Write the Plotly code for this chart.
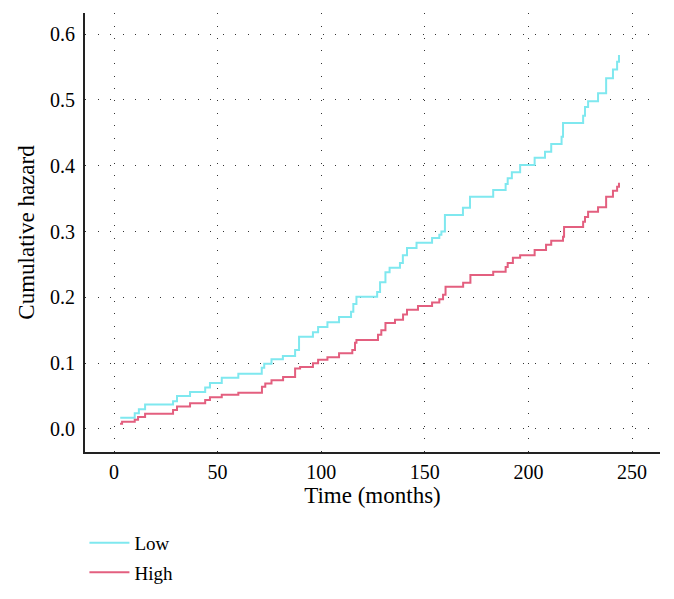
import plotly.graph_objects as go

# step curves (time in months, cumulative hazard)
low_time = [3, 10, 12, 15, 28.5, 30.4, 36.7, 44, 46.3, 52, 60, 71.3, 72.5, 76, 81.5, 87.4,
            89.3, 96, 98.5, 103, 108.6, 114.4, 115.5, 117, 127, 128.4, 131, 133, 138, 139.4,
            141.4, 146, 153.5, 157, 158, 159.7, 168.4, 171.8, 183, 189, 190, 192, 196, 203,
            208, 211, 216, 216.7, 226.4, 227.3, 228.8, 233.6, 237.5, 240.8, 242.8, 243.7]
low_haz = [0.017, 0.024, 0.030, 0.037, 0.042, 0.050, 0.056, 0.063, 0.070, 0.078, 0.084, 0.093,
           0.099, 0.106, 0.111, 0.120, 0.140, 0.147, 0.155, 0.162, 0.170, 0.178, 0.190, 0.201,
           0.208, 0.223, 0.238, 0.245, 0.252, 0.264, 0.275, 0.283, 0.290, 0.295, 0.300, 0.325,
           0.336, 0.353, 0.363, 0.372, 0.381, 0.390, 0.401, 0.412, 0.421, 0.433, 0.444, 0.465,
           0.476, 0.489, 0.498, 0.510, 0.533, 0.546, 0.558, 0.568]

high_time = [2.9, 3.9, 10, 11.6, 15, 28.5, 30.4, 36.7, 44, 46.3, 52, 60, 71.4, 73, 76, 81.6,
             87.4, 89.8, 96, 98.5, 103, 108.6, 115, 116.3, 117, 127.4, 129, 131, 135.6, 139.5,
             141.4, 146.7, 153.5, 157, 158.8, 160, 168.5, 172, 183, 189, 190, 192.5, 196, 203,
             208.5, 211, 216.7, 217.2, 226.4, 227.3, 228.8, 233.6, 237.5, 240.8, 242.8, 243.7]
high_haz = [0.008, 0.011, 0.014, 0.018, 0.023, 0.029, 0.034, 0.039, 0.044, 0.048, 0.052, 0.055,
            0.064, 0.069, 0.074, 0.079, 0.092, 0.094, 0.100, 0.105, 0.109, 0.115, 0.120, 0.131,
            0.135, 0.143, 0.150, 0.161, 0.166, 0.174, 0.181, 0.187, 0.192, 0.197, 0.204, 0.216,
            0.222, 0.234, 0.239, 0.246, 0.252, 0.260, 0.264, 0.272, 0.280, 0.286, 0.292, 0.307,
            0.315, 0.322, 0.330, 0.337, 0.353, 0.362, 0.368, 0.374]

x_ticks = [0, 50, 100, 150, 200, 250]
y_ticks = [0.0, 0.1, 0.2, 0.3, 0.4, 0.5, 0.6]
y_labels = ["0.0", "0.1", "0.2", "0.3", "0.4", "0.5", "0.6"]

fig = go.Figure()
fig.add_trace(go.Scatter(x=low_time, y=low_haz, mode="lines", name="Low", legendgroup="low",
                         line=dict(shape="hv", color="#7fe8ef", width=2)))
fig.add_trace(go.Scatter(x=high_time, y=high_haz, mode="lines", name="High", legendgroup="high",
                         line=dict(shape="hv", color="#e35f7f", width=2)))

axis_common = dict(
    showgrid=True, gridcolor="#333333", gridwidth=1, griddash="1px,11.5px",
    showline=True, linecolor="#222222", linewidth=2,
    ticks="outside", tickcolor="rgba(0,0,0,0)",
    zeroline=False, automargin=False,
    tickfont=dict(size=20, color="black"),
)

# page body has an 8px margin, so the figure is sized to fit the window
fig.update_layout(
    width=658, height=583,
    margin=dict(l=77, r=6, t=5, b=139, autoexpand=False),
    plot_bgcolor="white", paper_bgcolor="white",
    font=dict(family="Liberation Serif", size=19, color="black"),
    xaxis=dict(range=[-14, 263.5], tickvals=x_ticks, ticklen=1,
               title=dict(text="Time (months)", standoff=2), **axis_common),
    yaxis=dict(range=[-0.035, 0.632], tickvals=y_ticks, ticktext=y_labels, ticklen=4,
               title=dict(text="Cumulative hazard", standoff=9), **axis_common),
    showlegend=True,
    legend=dict(x=-0.001, y=-0.1635, xanchor="left", yanchor="top",
                orientation="v", tracegroupgap=2, itemwidth=40, font=dict(size=19),
                bgcolor="rgba(0,0,0,0)"),
)

fig.write_html("out.html")
